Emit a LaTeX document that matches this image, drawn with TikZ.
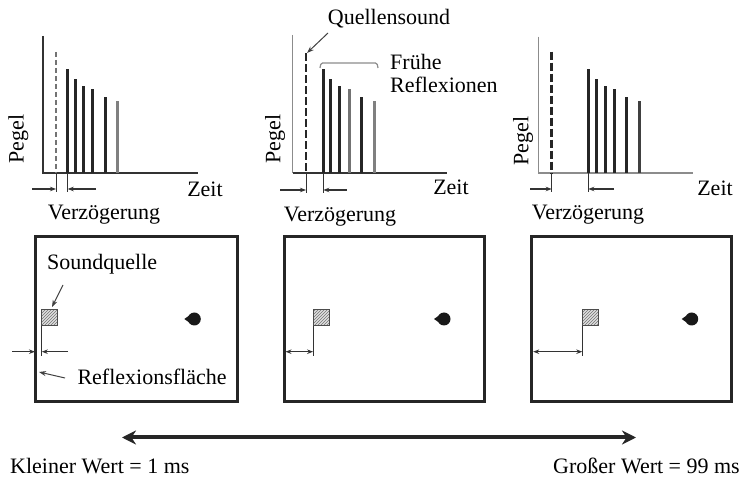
\documentclass[tikz,border=0pt]{standalone}
\usepackage{fontspec}
\setmainfont{Liberation Serif}
\usetikzlibrary{arrows.meta,calc,patterns}

\tikzset{
  achse/.style={line width=1.5pt,black!80},
  achsegrau/.style={line width=1.2pt,black!45},
  balken/.style={line width=3pt},
  quelle/.style={line width=2.8pt,black!85,dash pattern=on 8pt off 3pt},
  quellegrau/.style={line width=1.2pt,black!55,dash pattern=on 5pt off 3pt},
  marke/.style={line width=1pt,black!80},
  mass/.style={line width=1.1pt,black!80,->},
  zeiger/.style={line width=1pt,black!75,-{Stealth[length=7pt,width=5pt]}},
  raum/.style={line width=3pt,black!85},
  quellbox/.style={draw=black!70,line width=1pt,minimum size=16pt,inner sep=0pt,
    preaction={fill=gray!25},pattern=north east lines,pattern color=black!55},
  hoerer/.style={circle,fill=black!90,minimum size=13pt,inner sep=0pt},
  txt/.style={inner sep=0pt,font=\fontsize{22}{25}\selectfont},
}

\begin{document}
\begin{tikzpicture}[x=1pt,y=-1pt,>={Stealth[length=6pt,width=4.5pt]}]
  \useasboundingbox (0,0) rectangle (740,478);

  % Diagramm links: kleine Verzögerung
  \draw[achse] (43,36) -- (43,173) -- (198,173);
  \draw[quellegrau] (56,52) -- (56,173);
  \foreach \dx/\h/\farbe in {0/103.7/black!85,7.6/94.3/black!85,15.6/87/black!85,
      25/84/black!85,37.6/76.3/black!85,49.6/72/black!50}
    \draw[balken,\farbe] (67.7+\dx,173) -- (67.7+\dx,173-\h);
  \draw[marke] (56,173) -- (56,192) (67.7,173) -- (67.7,192);
  \draw[mass] (32,189) -- (56,189);
  \draw[mass] (96,189) -- (67.7,189);
  \node[txt,rotate=90] (pegelA) at (18.3,139) {Pegel};
  \node[txt,anchor=base] (zeitA) at (205,197) {Zeit};
  \node[txt,anchor=base] (verzA) at (104,220) {Verzögerung};

  % Diagramm Mitte
  \draw[achsegrau] (292.7,35) -- (292.7,173);
  \draw[achse] (292.7,173) -- (447,173);
  \draw[quelle] (306,53.3) -- (306,173);
  \foreach \dx/\h/\farbe in {0/103.7/black!85,7.4/94.3/black!85,16/87/black!85,
      26/84/black!55,37.7/76.3/black!85,50.7/72/black!50}
    \draw[balken,\farbe] (323.3+\dx,173) -- (323.3+\dx,173-\h);
  \draw[marke] (306,173) -- (306,193) (323.3,173) -- (323.3,193);
  \draw[mass] (280,190) -- (306,190);
  \draw[mass] (346.7,190) -- (323.3,190);
  \node[txt,rotate=90] (pegelB) at (275,139) {Pegel};
  \node[txt,anchor=base] (zeitB) at (451,195) {Zeit};
  \node[txt,anchor=base] (verzB) at (340,221.7) {Verzögerung};
  \node[txt,anchor=base] (quellsound) at (389,25) {Quellensound};
  \coordinate (qa) at (328,33);
  \coordinate (qb) at (307,53);
  \draw[zeiger] (qa) -- (qb);
  \draw[black!45,line width=1.2pt,rounded corners=1.5pt]
    (320,68) -- (321,63) -- (377,63) -- (378,68);
  \node[txt,anchor=north west,align=left] (frueh) at (390,54.5)
    {Frühe\\[-2pt]Reflexionen};

  % Diagramm rechts: große Verzögerung
  \draw[achsegrau] (538.3,36.7) -- (538.3,173) -- (693.3,173);
  \draw[quelle] (551.7,51.7) -- (551.7,173);
  \foreach \dx/\h/\farbe in {0/103.7/black!85,7.7/94.3/black!85,16.7/87/black!85,
      25.7/84/black!85,37.7/76.3/black!85,50.7/72/black!75}
    \draw[balken,\farbe] (588.3+\dx,173) -- (588.3+\dx,173-\h);
  \draw[marke] (551.7,173) -- (551.7,192) (588.3,173) -- (588.3,192);
  \draw[mass] (530,189) -- (551.7,189);
  \draw[mass] (614,189) -- (588.3,189);
  \node[txt,rotate=90] (pegelC) at (523,141) {Pegel};
  \node[txt,anchor=base] (zeitC) at (715,196) {Zeit};
  \node[txt,anchor=base] (verzC) at (588,220) {Verzögerung};

  % Räume
  \draw[raum] (35,236.7) rectangle (237.7,401.7);
  \draw[raum] (284,236.7) rectangle (484.3,401.7);
  \draw[raum] (531.7,236.7) rectangle (731.7,401.7);

  \node[quellbox] (boxA) at (49,317.5) {};
  \node[quellbox] (boxB) at (321,317.5) {};
  \node[quellbox] (boxC) at (590.8,317.5) {};
  \foreach \cx/\n in {194.3/A,444/B,691.7/C}{
    \node[hoerer] (hoerer\n) at (\cx,319) {};
    \fill[black!90] (\cx-5,315.5) -- (\cx-10,319) -- (\cx-5,322.5) -- cycle;
  }

  % Abstand zur Reflexionsfläche
  \coordinate (lA) at ($(boxA.south west)+(1.3,0)$);
  \coordinate (lB) at ($(boxB.south west)+(0.6,0)$);
  \coordinate (lC) at ($(boxC.south west)+(0,0)$);
  \draw[marke,line width=1.2pt] (lA) -- ++(0,30);
  \draw[marke,line width=1.2pt] (lB) -- ++(0,30);
  \draw[marke,line width=1.2pt] (lC) -- ++(0,30);
  \draw[mass] (12,351.7) -- (35,351.7);
  \draw[mass] (68,351.7) -- (lA |- 0,351.7);
  \draw[mass,<->] (285.5,351.7) -- (lB |- 0,351.7);
  \draw[mass,<->] (533.2,351.7) -- (lC |- 0,351.7);

  \node[txt,anchor=base west] (squelle) at (47,269.3) {Soundquelle};
  \draw[zeiger] (63,285) -- ($(boxA.north)+(3,-2)$);
  \node[txt,anchor=base west] (reflex) at (77.3,385) {Reflexionsfläche};
  \draw[zeiger] (65,378) -- (39,372);

  % Pfeil unten
  \coordinate (klein) at (122,437.5);
  \coordinate (gross) at (636,437.5);
  \draw[line width=4pt,black!85,{Stealth[length=14pt,width=14pt]}-{Stealth[length=14pt,width=14pt]}]
    (klein) -- (gross);
  \node[txt,anchor=base west] (kleinwert) at (10,474) {Kleiner Wert = 1 ms};
  \node[txt,anchor=base west] (grosswert) at (553,474) {Großer Wert = 99 ms};
\end{tikzpicture}
\end{document}
